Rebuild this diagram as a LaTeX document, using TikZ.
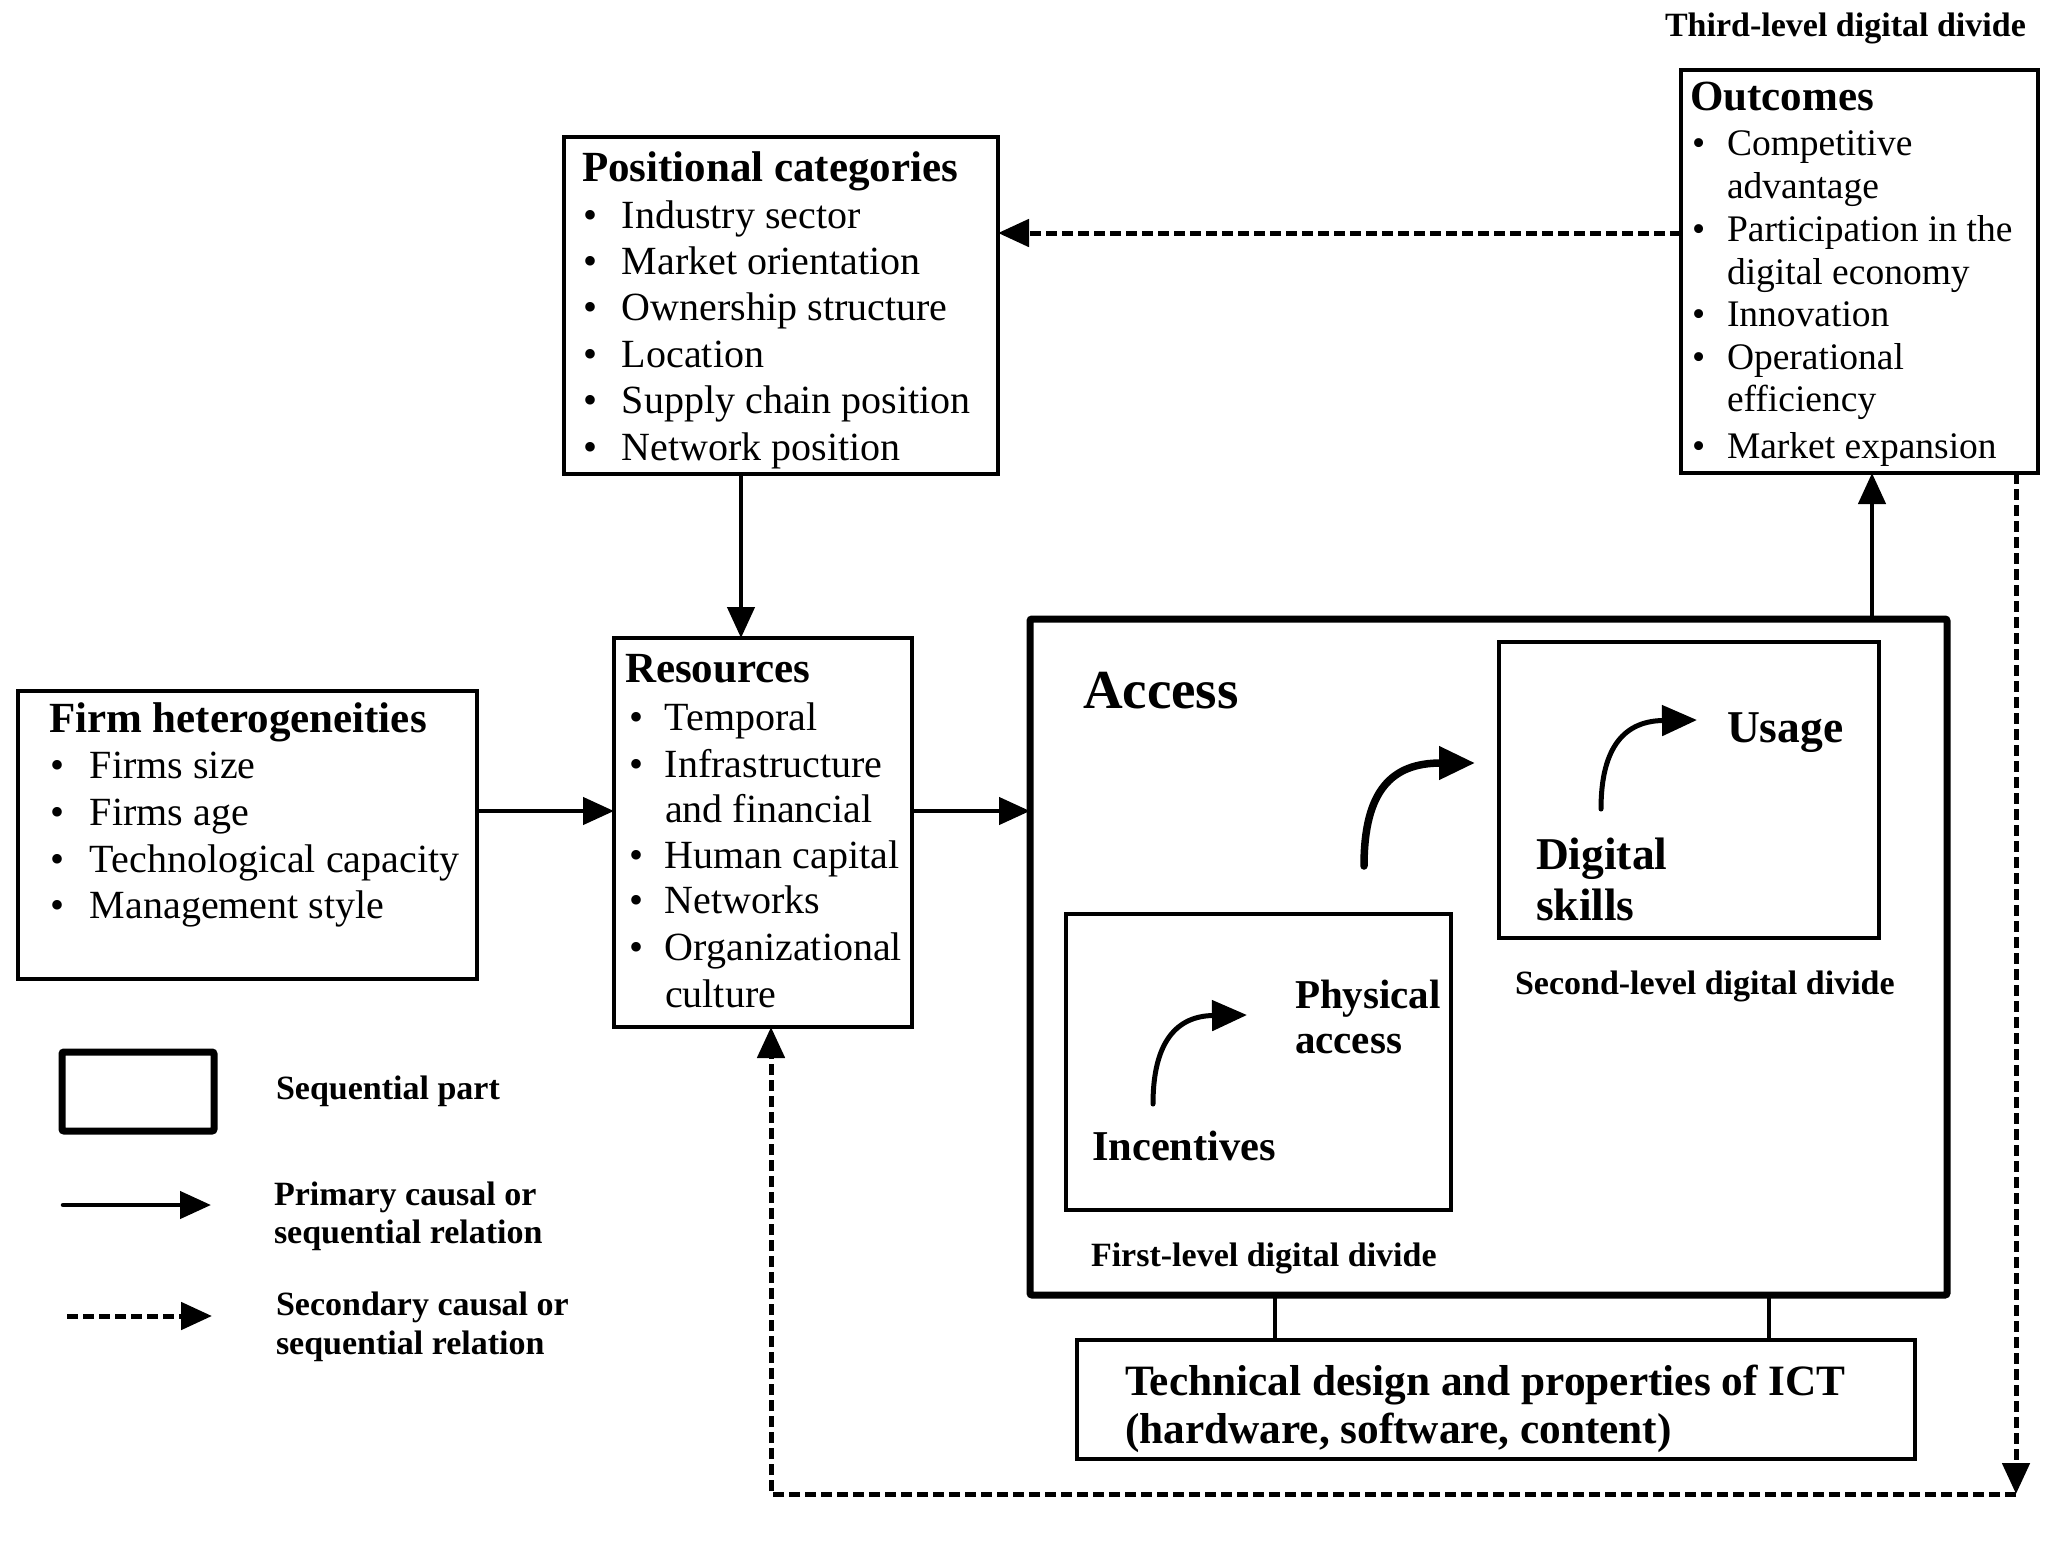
\documentclass[tikz,border=0pt]{standalone}
\usepackage{fontspec}
\setmainfont{Liberation Serif}
\usetikzlibrary{arrows.meta}
\newcommand{\fsz}[1]{\fontsize{#1}{#1}\selectfont}
\newcommand{\bul}[1]{\makebox[#1][l]{\textbullet}}
\begin{document}
\begin{tikzpicture}[x=1pt,y=-1pt,
  box/.style={draw, rectangle, line width=4pt, inner sep=0pt, outer sep=0pt, anchor=north west},
  seqbox/.style={box, line width=7pt, rounded corners=2pt},
  txt/.style={anchor=base west, inner sep=0pt, outer sep=0pt},
  item/.style={txt, font=\fsz{40}},
  oitem/.style={txt, font=\fsz{37.5}},
  ttl/.style={txt, font=\bfseries\fsz{43}},
  lbl/.style={txt, font=\bfseries\fsz{34}},
  big/.style={txt, font=\bfseries\fsz{42}},
  arr/.style={line width=4.5pt, -{Triangle[length=31pt,width=27pt]}},
  darr/.style={arr, line width=5pt, dash pattern=on 11pt off 5pt},
  curv/.style={line width=5pt, line cap=round, -{Triangle[length=35pt,width=30pt]}},
]
\useasboundingbox (0,0) rectangle (2067,1540);
\fill[white] (0,0) rectangle (2067,1540);

% ---------- boxes ----------
\node[box, minimum width=459pt, minimum height=288pt] (firm) at (18,691) {};
\node[box, minimum width=298pt, minimum height=389pt] (resources) at (614,638) {};
\node[box, minimum width=434pt, minimum height=337pt] (positional) at (564,137) {};
\node[box, minimum width=357pt, minimum height=403pt] (outcomes) at (1681,70) {};
\node[seqbox, minimum width=917pt, minimum height=676pt] (access) at (1030,619) {};
\node[box, minimum width=385pt, minimum height=296pt] (first) at (1066,914) {};
\node[box, minimum width=380pt, minimum height=296pt] (second) at (1499,642) {};
\node[box, minimum width=838pt, minimum height=119pt] (tech) at (1077,1340) {};

% ---------- positional categories ----------
\node[ttl] (posT) at (582,181) {Positional categories};
\node[item] (pos1) at (583,228) {\bul{39pt}Industry sector};
\node[item] (pos2) at (583,274.4) {\bul{39pt}Market orientation};
\node[item] (pos3) at (583,320.8) {\bul{39pt}Ownership structure};
\node[item] (pos4) at (583,367.2) {\bul{39pt}Location};
\node[item] (pos5) at (583,413.6) {\bul{39pt}Supply chain position};
\node[item] (pos6) at (583,460) {\bul{39pt}Network position};

% ---------- outcomes ----------
\node[lbl] (third) at (1665,36) {Third-level digital divide};
\node[ttl] (outT) at (1690,110) {Outcomes};
\node[oitem] (out1) at (1692,155) {\bul{35pt}Competitive};
\node[oitem] (out1b) at (1727,198) {advantage};
\node[oitem] (out2) at (1692,241) {\bul{35pt}Participation in the};
\node[oitem] (out2b) at (1727,284) {digital economy};
\node[oitem] (out3) at (1692,326) {\bul{35pt}Innovation};
\node[oitem] (out4) at (1692,369) {\bul{35pt}Operational};
\node[oitem] (out4b) at (1727,411) {efficiency};
\node[oitem] (out5) at (1692,458) {\bul{35pt}Market expansion};

% ---------- firm heterogeneities ----------
\node[ttl] (firmT) at (49,732) {Firm heterogeneities};
\node[item] (firm1) at (50,778) {\bul{40pt}Firms size};
\node[item] (firm2) at (50,825) {\bul{40pt}Firms age};
\node[item] (firm3) at (50,872) {\bul{40pt}Technological capacity};
\node[item] (firm4) at (50,918) {\bul{40pt}Management style};

% ---------- resources ----------
\node[ttl] (resT) at (625,682) {Resources};
\node[item] (res1) at (629,730) {\bul{36pt}Temporal};
\node[item] (res2) at (629,777) {\bul{36pt}Infrastructure};
\node[item] (res2b) at (665,822) {and financial};
\node[item] (res3) at (629,868) {\bul{36pt}Human capital};
\node[item] (res4) at (629,913) {\bul{36pt}Networks};
\node[item] (res5) at (629,960) {\bul{36pt}Organizational};
\node[item] (res5b) at (665,1007) {culture};

% ---------- access ----------
\node[txt, font=\bfseries\fsz{55}] (accT) at (1083,708) {Access};
\node[txt, font=\bfseries\fsz{45.5}] (usage) at (1727,742) {Usage};
\node[txt, font=\bfseries\fsz{45.5}] (dig1) at (1536,869) {Digital};
\node[txt, font=\bfseries\fsz{45.5}] (dig2) at (1536,920) {skills};
\node[txt, font=\bfseries\fsz{41}] (phys1) at (1295,1008) {Physical};
\node[txt, font=\bfseries\fsz{41}] (phys2) at (1295,1053) {access};
\node[txt, font=\bfseries\fsz{42.5}] (incent) at (1092,1160) {Incentives};
\node[lbl] (secondL) at (1515,994) {Second-level digital divide};
\node[lbl] (firstL) at (1091,1266) {First-level digital divide};

% ---------- technical ----------
\node[txt, font=\bfseries\fsz{43.3}] (tech1) at (1125,1395) {Technical design and properties of ICT};
\node[txt, font=\bfseries\fsz{43.3}] (tech2) at (1125,1443) {(hardware, software, content)};

% ---------- legend ----------
\node[seqbox, minimum width=152pt, minimum height=79pt] (legbox) at (62,1052) {};
\node[lbl] (leg1) at (276,1099) {Sequential part};
\node[lbl] (leg2a) at (274,1205) {Primary causal or};
\node[lbl] (leg2b) at (274,1243) {sequential relation};
\node[lbl] (leg3a) at (276,1315) {Secondary causal or};
\node[lbl] (leg3b) at (276,1354) {sequential relation};
\coordinate (la1) at (63,1205);
\coordinate (la2) at (211,1205);
\coordinate (lb1) at (67,1316);
\coordinate (lb2) at (212,1316);
\draw[arr, line cap=round] (la1) -- (la2);
\draw[darr] (lb1) -- (lb2);

% ---------- connectors ----------
\coordinate (ym) at (0,811);
\coordinate (yd) at (0,233);
\coordinate (xp) at (741,0);
\coordinate (xa) at (1872,0);
\coordinate (xq) at (771,0);
\coordinate (loopc) at (2016,1494);
\coordinate (xt1) at (1275,0);
\coordinate (xt2) at (1769,0);

\draw[arr] (firm.east |- ym) -- (resources.west |- ym);
\draw[arr] (resources.east |- ym) -- (access.west |- ym);
\draw[arr] (positional.south -| xp) -- (resources.north -| xp);
\draw[arr] (access.north -| xa) -- (outcomes.south -| xa);
\draw[darr] (outcomes.west |- yd) -- (positional.east |- yd);
\draw[darr] (outcomes.south -| loopc) -- (loopc);
\draw[darr] (loopc) -| (resources.south -| xq);
\draw[line width=4.5pt] (access.south -| xt1) -- (tech.north -| xt1);
\draw[line width=4.5pt] (access.south -| xt2) -- (tech.north -| xt2);

% ---------- curved arrows ----------
\coordinate (cbs) at (1364,866);
\coordinate (cbe) at (1475,763);
\coordinate (c1s) at (1153,1104);
\coordinate (c1e) at (1247,1015);
\coordinate (c2s) at (1601,809);
\coordinate (c2e) at (1697,720);
\draw[curv, line width=7.5pt, -{Triangle[length=36pt,width=32pt]}] (cbs) .. controls (1364,790) and (1392,763) .. (cbe);
\draw[curv] (c1s) .. controls (1153,1040) and (1178,1016) .. (c1e);
\draw[curv] (c2s) .. controls (1601,745) and (1626,721) .. (c2e);
\end{tikzpicture}
\end{document}
